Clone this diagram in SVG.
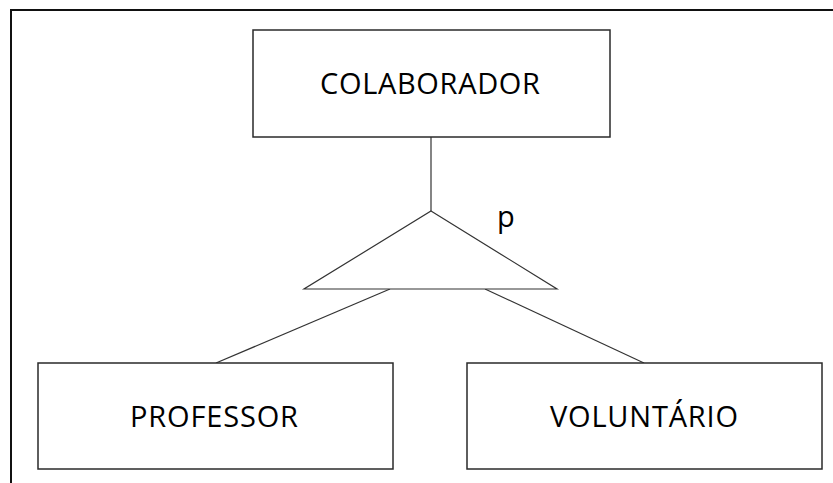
<svg xmlns="http://www.w3.org/2000/svg" width="833" height="483" viewBox="0 0 833 483">
<style>
.box{fill:#fff;stroke:#2a2a2a;stroke-width:1.5}
.ln{fill:none;stroke:#333;stroke-width:1.2}
.t{font-family:"Open Sans","Liberation Sans",sans-serif;font-size:29px;fill:#000;text-anchor:start}
</style>
<rect width="833" height="483" fill="#fff"/>
<g id="frame"><path d="M11,483 V10 H833" fill="none" stroke="#111" stroke-width="2"/></g>
<g id="connectors">
<line class="ln" x1="431" y1="137" x2="431" y2="211"/>
<line class="ln" x1="390" y1="289" x2="216" y2="363"/>
<line class="ln" x1="485" y1="289" x2="644" y2="363"/>
</g>
<g id="colaborador"><rect class="box" x="253" y="30" width="357" height="107"/><text class="t" x="320" y="94" textLength="220" lengthAdjust="spacing">COLABORADOR</text></g>
<g id="especializacao"><polygon points="431,211 557,289 304,289" fill="#fff" stroke="#333" stroke-width="1.2"/><text class="t" x="497" y="227">p</text></g>
<g id="professor"><rect class="box" x="38" y="363" width="355" height="106"/><text class="t" x="130" y="427" textLength="168" lengthAdjust="spacing">PROFESSOR</text></g>
<g id="voluntario"><rect class="box" x="467" y="363" width="355" height="106"/><text class="t" x="550" y="427" textLength="188" lengthAdjust="spacing">VOLUNTÁRIO</text></g>
</svg>
